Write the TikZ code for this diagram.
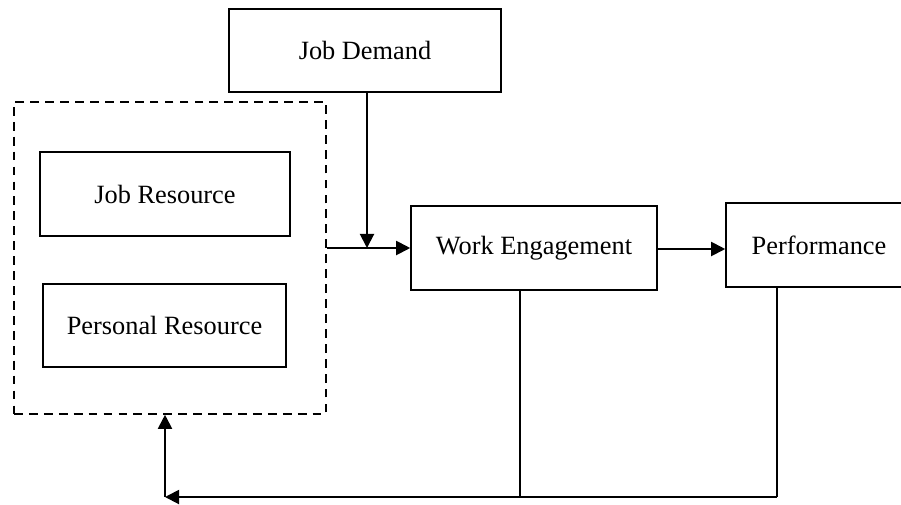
\documentclass[tikz,border=0pt]{standalone}
\usepackage{fontspec}
\setmainfont{Liberation Serif}
\usetikzlibrary{arrows.meta,positioning}

\begin{document}
\begin{tikzpicture}[x=0.02cm,y=-0.02cm,line width=0.9pt,>={Triangle[length=8pt,width=8pt]},
  box/.style={draw,rectangle,inner sep=0pt,font=\fontsize{15}{18}\selectfont},
  group/.style={draw,rectangle,dash pattern=on 5pt off 3.5pt,inner sep=0pt},
  link/.style={->,line width=1.1pt}]

	\useasboundingbox (0,0) rectangle (901,504);

	% The boxes
	\node [group,minimum width=312*0.02cm,minimum height=312*0.02cm] at (170,258) (res) {};
	\node [box,minimum width=250*0.02cm,minimum height=84*0.02cm] at (165,194) (jobres) {Job Resource};
	\node [box,minimum width=243*0.02cm,minimum height=83*0.02cm] at (164.5,325.5) (persres) {Personal Resource};
	\node [box,minimum width=272*0.02cm,minimum height=83*0.02cm] at (365,50.5) (demand) {Job Demand};
	\node [box,minimum width=246*0.02cm,minimum height=84*0.02cm] at (534,248) (engage) {Work Engagement};
	\node [box,minimum width=186*0.02cm,minimum height=84*0.02cm] at (819,245) (perf) {Performance};

	% Joints
	\coordinate (join) at (367,248);
	\coordinate (back) at (165,497);
	\coordinate (engdrop) at (520,497);
	\coordinate (perfdrop) at (777,497);

	% Forward edges
	\path[link]
	(res.east |- join) edge (engage.west)
	(demand.south -| join) edge (join)
	(engage.east |- 0,249) edge (perf.west |- 0,249);

	% Feedback
	\draw[line width=0.7pt] (engage.south -| engdrop) -- (engdrop);
	\draw[line width=0.7pt] (perf.south -| perfdrop) -- (perfdrop);
	\draw[link] (perfdrop) -- (back);
	\draw[link] (back) -- (res.south -| back);

\end{tikzpicture}
\end{document}
